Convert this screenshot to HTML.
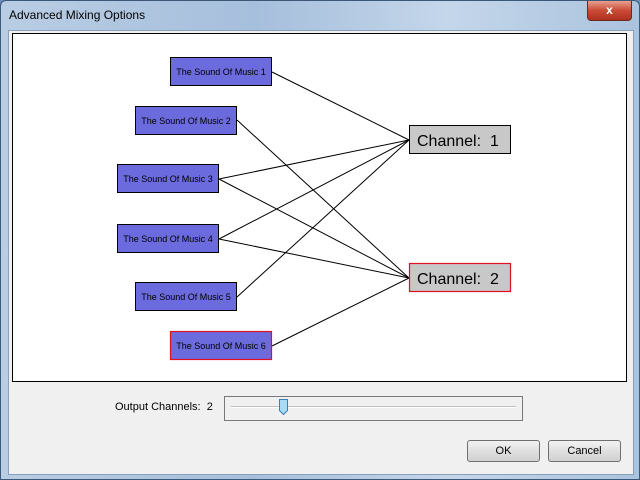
<!DOCTYPE html>
<html><head><style>
body{margin:0;width:640px;height:480px;overflow:hidden;background:#6b8fb8;font-family:"Liberation Sans",sans-serif;}
.win{position:absolute;left:0;top:0;width:638px;height:478px;border:1px solid #3c5878;border-radius:6px 6px 0 0;background:linear-gradient(90deg,#b9cde4,#a6bfdc 40%,#c4d6ea 70%,#aac3de);}
.title{position:absolute;left:8px;top:7px;font-size:12px;color:#000;}
.close{position:absolute;left:586px;top:0;width:43px;height:19px;background:linear-gradient(#e8a090,#c84b35 50%,#b03020);border:1px solid #6a2a20;border-top:none;border-radius:0 0 4px 4px;color:#fff;font-weight:bold;font-size:12px;text-align:center;line-height:18px;}
.body{position:absolute;left:7px;top:29px;width:624px;height:443px;background:#f0f0f0;border:1px solid #8aa0ba;}
.btn{position:absolute;width:71px;height:20px;border:1px solid #707070;border-radius:3px;background:linear-gradient(#f2f2f2,#e0e0e0 50%,#d0d0d0);font-size:11px;text-align:center;line-height:20px;}
</style></head><body>
<div class="win">
<div class="title">Advanced Mixing Options</div>
<div class="close">x</div>
<div class="body"></div>
</div>
<svg style="position:absolute;left:0;top:0" width="640" height="480" font-family="Liberation Sans, sans-serif">
<rect x="12.5" y="33.5" width="614" height="348" fill="#fff" stroke="#000"/>
<g stroke="#000" stroke-width="1">
<line x1="272" y1="72" x2="409" y2="140"/>
<line x1="237" y1="120" x2="409" y2="278"/>
<line x1="219" y1="179" x2="409" y2="140"/>
<line x1="219" y1="179" x2="409" y2="278"/>
<line x1="219" y1="239" x2="409" y2="140"/>
<line x1="219" y1="239" x2="409" y2="278"/>
<line x1="237" y1="297" x2="409" y2="140"/>
<line x1="272" y1="346" x2="409" y2="278"/>
</g>
<g font-size="9" fill="#000" text-anchor="middle">
<rect x="170.5" y="57.5" width="101" height="28" fill="#6b6bdd" stroke="#000"/><text x="221" y="75">The Sound Of Music 1</text>
<rect x="135.5" y="106.5" width="101" height="28" fill="#6b6bdd" stroke="#000"/><text x="186" y="124">The Sound Of Music 2</text>
<rect x="117.5" y="164.5" width="101" height="28" fill="#6b6bdd" stroke="#000"/><text x="168" y="182">The Sound Of Music 3</text>
<rect x="117.5" y="224.5" width="101" height="28" fill="#6b6bdd" stroke="#000"/><text x="168" y="242">The Sound Of Music 4</text>
<rect x="135.5" y="282.5" width="101" height="28" fill="#6b6bdd" stroke="#000"/><text x="186" y="300">The Sound Of Music 5</text>
<rect x="170.5" y="331.5" width="101" height="28" fill="#6b6bdd" stroke="#e01020" stroke-width="1.2"/><text x="221" y="349">The Sound Of Music 6</text>
</g>
<g font-size="16" fill="#000">
<rect x="409.5" y="125.5" width="101" height="28" fill="#c8c8c8" stroke="#000"/><text x="417" y="146">Channel:&#160;&#160;1</text>
<rect x="409.5" y="263.5" width="101" height="28" fill="#c8c8c8" stroke="#e01020" stroke-width="1.2"/><text x="417" y="284">Channel:&#160;&#160;2</text>
</g>
<text x="115" y="410" font-size="11">Output Channels:&#160;&#160;2</text>
<rect x="224.5" y="396.5" width="298" height="24" fill="none" stroke="#000" stroke-dasharray="1,1"/>
<line x1="231" y1="406.5" x2="516" y2="406.5" stroke="#c0c0c0"/>
<line x1="231" y1="407.5" x2="516" y2="407.5" stroke="#fff"/>
<path d="M279.5 399.5h8v11l-4 4l-4-4z" fill="#a8dcf4" stroke="#3c7fb1"/>
</svg>
<div class="btn" style="left:467px;top:440px">OK</div>
<div class="btn" style="left:548px;top:440px">Cancel</div>
</body></html>
